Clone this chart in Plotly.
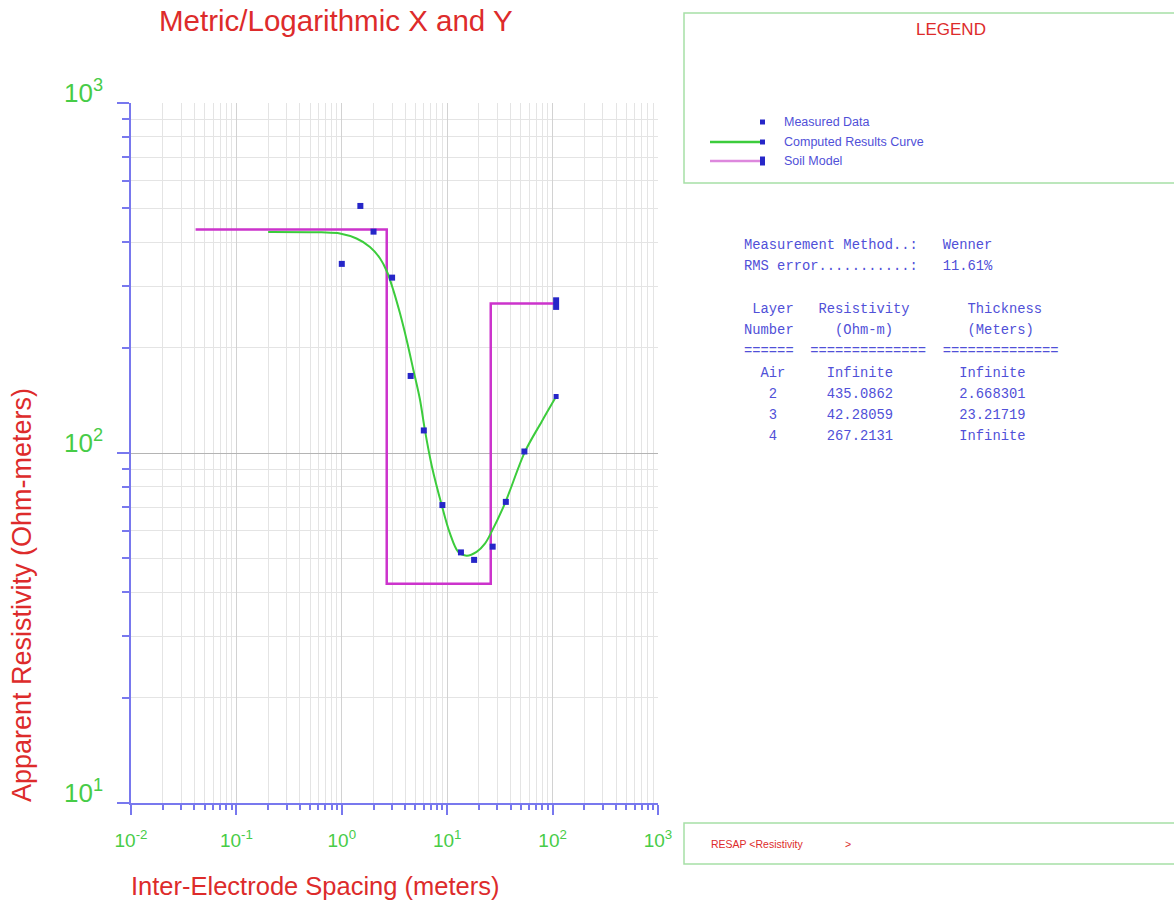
import plotly.graph_objects as go

# ---- figure geometry (pixels) ----
W, H = 1174, 903
PL, PR, PT, PB = 131, 658, 103, 803   # plot area edges


def fx(px):
    """pixel x -> paper x"""
    return (px - PL) / (PR - PL)


def fy(py):
    """pixel y -> paper y"""
    return (PB - py) / (PB - PT)


# ---- data ----
# Wenner field measurements: spacing (m) and apparent resistivity (ohm-m)
meas_spacing = [1, 1.5, 2, 3, 4.5, 6, 9, 13.5, 18, 27, 36, 54]
meas_rho = [347, 508, 429, 317, 166, 116, 71, 52, 49.5, 54, 72.5, 101]

# computed apparent-resistivity curve of the fitted model
curve_spacing = [0.2, 0.64, 0.96, 1.38, 1.85, 2.30, 2.68, 3.08, 3.56, 4.13, 4.77,
                 5.52, 6.15, 7.13, 8.87, 10.6, 12.7, 15.3, 19.0, 22.9, 26.4,
                 35.3, 54.7, 78.7, 108]
curve_rho = [428, 427, 424, 410, 388, 360, 330, 292, 251, 210, 173,
             142, 116, 92, 71, 59, 52.2, 50.9, 52.2, 55.2, 59.6,
             71.8, 100.9, 122.9, 145]

# fitted soil model (layers below the air layer)
layer_names = ["Air", "2", "3", "4"]
layer_resistivity = ["Infinite", "435.0862", "42.28059", "267.2131"]
layer_thickness = ["Infinite", "2.668301", "23.21719", "Infinite"]
model_x_start, model_x_end = 0.041, 108

measurement_method = "Wenner"
rms_error = "11.61%"

x_tick_vals = [0.01, 0.1, 1, 10, 100, 1000]
x_tick_text = ["10<sup>-2</sup>", "10<sup>-1</sup>", "10<sup>0</sup>",
               "10<sup>1</sup>", "10<sup>2</sup>", "10<sup>3</sup>"]
y_tick_vals = [10, 100, 1000]
y_tick_text = ["10<sup>1</sup>", "10<sup>2</sup>", "10<sup>3</sup>"]

# ---- colours ----
RED = "#dd2b2b"
GREEN_TXT = "#47cc47"
AXIS_BLUE = "#7878ee"
TXT_BLUE = "#5050d8"
PT_BLUE = "#2626c8"
CURVE_GREEN = "#3ccc3c"
MODEL_MAGENTA = "#cc33cc"
BOX_GREEN = "#a6e0a6"

# ---- step line for the layered soil model ----
rho_vals = [float(v) for v in layer_resistivity[1:]]
thk_vals = [float(v) for v in layer_thickness[1:-1]]
model_x, model_y = [model_x_start], [rho_vals[0]]
depth = 0.0
for i, t in enumerate(thk_vals):
    depth += t
    model_x += [depth, depth]
    model_y += [rho_vals[i], rho_vals[i + 1]]
model_x.append(model_x_end)
model_y.append(rho_vals[-1])

fig = go.Figure()

fig.add_trace(go.Scatter(
    x=model_x, y=model_y, mode="lines",
    line=dict(color=MODEL_MAGENTA, width=2.5), hoverinfo="skip"))
fig.add_trace(go.Scatter(
    x=[model_x[-1]], y=[model_y[-1]], mode="markers",
    marker=dict(symbol="line-ns", size=9, line=dict(color=PT_BLUE, width=6)),
    hoverinfo="skip"))
fig.add_trace(go.Scatter(
    x=curve_spacing, y=curve_rho, mode="lines", line_shape="spline",
    line=dict(color=CURVE_GREEN, width=2, smoothing=0.9), hoverinfo="skip"))
fig.add_trace(go.Scatter(
    x=[curve_spacing[-1]], y=[curve_rho[-1]], mode="markers",
    marker=dict(symbol="square", size=5, color=PT_BLUE), hoverinfo="skip"))
fig.add_trace(go.Scatter(
    x=meas_spacing, y=meas_rho, mode="markers",
    marker=dict(symbol="square", size=6, color=PT_BLUE), hoverinfo="skip"))

fig.update_xaxes(
    type="log", range=[-2, 3],
    tickmode="array", tickvals=x_tick_vals, ticktext=x_tick_text,
    ticks="outside", ticklen=10, tickwidth=1.5, tickcolor=AXIS_BLUE,
    showline=True, linecolor=AXIS_BLUE, linewidth=1.5, zeroline=False,
    showgrid=True, gridcolor="#d2d2d2", gridwidth=1,
    minor=dict(dtick="D1", ticks="outside", ticklen=5, tickwidth=1.5,
               tickcolor=AXIS_BLUE, showgrid=True, gridcolor="#e4e4e4", gridwidth=1),
    tickfont=dict(family="Liberation Sans", size=19, color=GREEN_TXT),
    ticklabelstandoff=9,
)
fig.update_yaxes(
    type="log", range=[1, 3],
    tickmode="array", tickvals=y_tick_vals, ticktext=y_tick_text,
    ticks="outside", ticklen=12, tickwidth=1.5, tickcolor=AXIS_BLUE,
    showline=True, linecolor=AXIS_BLUE, linewidth=1.5, zeroline=False,
    showgrid=True, gridcolor="#b4b4b4", gridwidth=1,
    minor=dict(dtick="D1", ticks="outside", ticklen=7, tickwidth=1.5,
               tickcolor=AXIS_BLUE, showgrid=True, gridcolor="#e4e4e4", gridwidth=1),
    tickfont=dict(family="Liberation Sans", size=26, color=GREEN_TXT),
    ticklabelstandoff=9, ticklabelshift=-10,
)

annotations = []
shapes = []


def text(px, py, s, size, color, family="Liberation Sans", anchor="left"):
    annotations.append(dict(
        x=fx(px), y=fy(py), xref="paper", yref="paper", text=s,
        showarrow=False, xanchor=anchor, yanchor="middle",
        font=dict(family=family, size=size, color=color)))


# titles
text(336, 20, "Metric/Logarithmic X and Y", 29.5, RED, anchor="center")
text(315, 886, "Inter-Electrode Spacing (meters)", 25.5, RED, anchor="center")
annotations.append(dict(
    x=fx(22), y=fy(595), xref="paper", yref="paper",
    text="Apparent Resistivity (Ohm-meters)", textangle=-90,
    showarrow=False, xanchor="center", yanchor="middle",
    font=dict(family="Liberation Sans", size=27, color=RED)))

# legend panel
shapes.append(dict(type="rect", xref="paper", yref="paper",
                   x0=fx(684), x1=fx(1180), y0=fy(13), y1=fy(183),
                   line=dict(color=BOX_GREEN, width=1.5)))
text(951, 30, "LEGEND", 17, RED, anchor="center")
legend_rows = [("Measured Data", 122, None), ("Computed Results Curve", 142, CURVE_GREEN),
               ("Soil Model", 161, "#dd88dd")]
for label, ly, lcol in legend_rows:
    if lcol:
        shapes.append(dict(type="line", xref="paper", yref="paper",
                           x0=fx(710), x1=fx(762), y0=fy(ly), y1=fy(ly),
                           line=dict(color=lcol, width=2.5)))
    hh = 4.5 if label == "Soil Model" else 2.5
    shapes.append(dict(type="rect", xref="paper", yref="paper",
                       x0=fx(760), x1=fx(765), y0=fy(ly - hh), y1=fy(ly + hh),
                       fillcolor=PT_BLUE, line=dict(width=0)))
    text(782, ly, label, 12.5, TXT_BLUE)

# model summary table (monospaced)


def row(*cells):
    chars = [" "] * 40
    for col, s in cells:
        for k, ch in enumerate(s):
            chars[col + k] = ch
    return "".join(chars).rstrip().replace(" ", "\u00a0")


table_lines = [
    (245, row((0, "Measurement Method..:"), (24, measurement_method))),
    (266, row((0, "RMS error...........:"), (24, rms_error))),
    (309, row((1, "Layer"), (9, "Resistivity"), (27, "Thickness"))),
    (330, row((0, "Number"), (11, "(Ohm-m)"), (27, "(Meters)"))),
    (351, row((0, "=" * 6), (8, "=" * 14), (24, "=" * 14))),
]
for i, name in enumerate(layer_names):
    col = 2 if len(name) > 1 else 3
    table_lines.append((373 + 21.3 * i, row((col, name), (10, layer_resistivity[i]),
                                             (26, layer_thickness[i]))))
for ty, s in table_lines:
    text(742, ty, s, 13.8, TXT_BLUE, family="Liberation Mono")

# program footer panel
shapes.append(dict(type="rect", xref="paper", yref="paper",
                   x0=fx(684), x1=fx(1180), y0=fy(823), y1=fy(864),
                   line=dict(color=BOX_GREEN, width=1.5)))
text(709, 844, "RESAP &lt;Resistivity", 10.5, RED)
text(843, 844, "&gt;", 10.5, RED)

fig.update_layout(
    width=W, height=H,
    margin=dict(l=PL, r=W - PR, t=PT, b=H - PB, pad=0),
    plot_bgcolor="white", paper_bgcolor="white",
    showlegend=False,
    annotations=annotations, shapes=shapes,
)

fig.write_html("out.html")
